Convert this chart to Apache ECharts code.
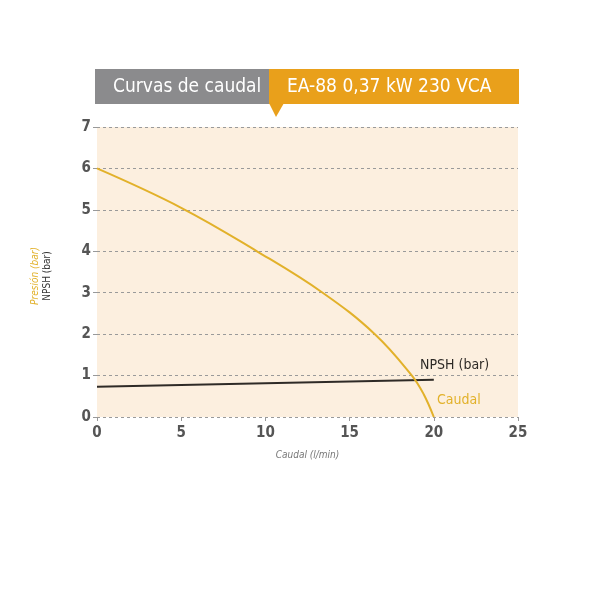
<!DOCTYPE html>
<html><head><meta charset="utf-8">
<script src="https://cdn.jsdelivr.net/npm/echarts@6/dist/echarts.min.js"></script>
<style>html,body{margin:0;padding:0;background:#fff}#c{width:600px;height:600px}</style>
</head><body><div id="c"></div>
<script>
var xTicks = [0, 5, 10, 15, 20, 25];
var yTicks = [0, 1, 2, 3, 4, 5, 6, 7];
var caudalCurve = [[0, 6], [5, 5.05], [9.5, 4.0], [13.4, 3.0], [16.5, 2.0], [18.7, 1.0], [19.4, 0.55], [20, 0]];
var npshLine = [[0, 0.73], [20, 0.9]];
var titleLeft = 'Curvas de caudal';
var titleRight = 'EA-88 0,37 kW 230 VCA';
var yNameA = 'Presión (bar)';
var yNameB = 'NPSH (bar)';
var xName = 'Caudal (l/min)';

var FONT = '"Liberation Sans Narrow", "DejaVu Sans Condensed", "Liberation Sans", sans-serif';
var chart = echarts.init(document.getElementById('c'));
chart.setOption({
  animation: false,
  grid: {left: 97, right: 82, top: 127, bottom: 183, show: true, backgroundColor: '#fcefdf', borderWidth: 0},
  xAxis: {
    type: 'value', min: 0, max: 25, interval: 5,
    name: xName, nameLocation: 'middle', nameGap: 33,
    nameTextStyle: {fontFamily: FONT, fontStyle: 'italic', fontSize: 10, color: '#777'},
    axisLine: {show: false},
    axisTick: {show: true, length: 4, lineStyle: {color: '#999'}},
    axisLabel: {fontFamily: FONT, fontSize: 15, fontWeight: 'bold', color: '#555', margin: 9},
    splitLine: {show: false}
  },
  yAxis: {
    type: 'value', min: 0, max: 7, interval: 1,
    axisLine: {show: false},
    axisTick: {show: true, length: 4, lineStyle: {color: '#999'}},
    axisLabel: {fontFamily: FONT, fontSize: 15, fontWeight: 'bold', color: '#555', margin: 6},
    splitLine: {show: true, lineStyle: {color: '#9a9a9a', type: [3, 3], width: 1}}
  },
  series: [
    {type: 'line', data: caudalCurve, smooth: 0.4, showSymbol: false,
     lineStyle: {color: '#e2b12a', width: 2}, z: 3},
    {type: 'line', data: npshLine, showSymbol: false,
     lineStyle: {color: '#2e2a26', width: 2}, z: 2}
  ],
  graphic: [
    {type: 'rect', shape: {x: 95, y: 69, width: 175, height: 35}, style: {fill: '#8b8b8d'}},
    {type: 'rect', shape: {x: 269, y: 69, width: 250, height: 35}, style: {fill: '#e9a01b'}},
    {type: 'polygon', shape: {points: [[269, 103], [284, 103], [276, 117]]}, style: {fill: '#e9a01b'}},
    {type: 'text', x: 113, y: 87, style: {text: titleLeft, fill: '#fff', font: '19px ' + FONT, textVerticalAlign: 'middle'}},
    {type: 'text', x: 287, y: 87, style: {text: titleRight, fill: '#fff', font: '19px ' + FONT, textVerticalAlign: 'middle'}},
    {type: 'text', x: 35, y: 276, rotation: Math.PI / 2, style: {text: yNameA, fill: '#e2b12a', font: 'italic 10px ' + FONT, textAlign: 'center', textVerticalAlign: 'middle'}},
    {type: 'text', x: 47, y: 276, rotation: Math.PI / 2, style: {text: yNameB, fill: '#333', font: '10px ' + FONT, textAlign: 'center', textVerticalAlign: 'middle'}},
    {type: 'text', x: 420, y: 365, style: {text: 'NPSH (bar)', fill: '#2e2a26', font: '14px ' + FONT, textVerticalAlign: 'middle'}},
    {type: 'text', x: 437, y: 400, style: {text: 'Caudal', fill: '#e2b12a', font: '14px ' + FONT, textVerticalAlign: 'middle'}}
  ]
});
</script></body></html>
